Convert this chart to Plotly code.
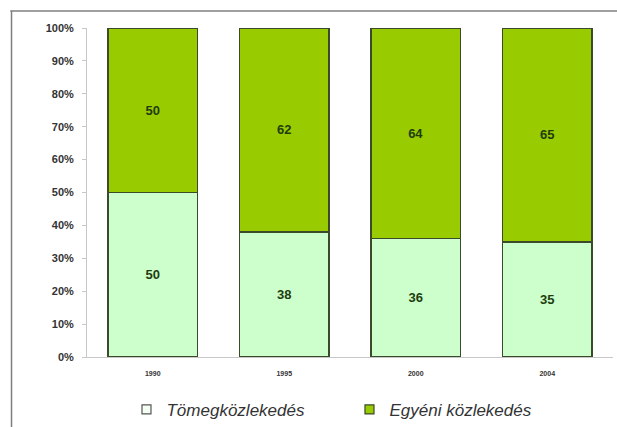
import plotly.graph_objects as go

years = ["1990", "1995", "2000", "2004"]
tomeg = [50, 38, 36, 35]
egyeni = [50, 62, 64, 65]
series_names = ["Tömegközlekedés", "Egyéni közlekedés"]
y_ticks = [0, 10, 20, 30, 40, 50, 60, 70, 80, 90, 100]

colors = ["#CCFFCC", "#99CC00"]
edge = "#3a4a2a"
lab_font = dict(family="Arial, Liberation Sans", size=13, color="#1f3d0f", weight="bold")

fig = go.Figure()
for vals, name, col in [(tomeg, series_names[0], colors[0]), (egyeni, series_names[1], colors[1])]:
    fig.add_trace(go.Bar(
        x=years, y=vals, name=name, showlegend=False,
        marker=dict(color=col, line=dict(color=edge, width=1.5)),
        text=[str(v) for v in vals], textposition="inside", insidetextanchor="middle",
        textfont=lab_font,
    ))

# legend entries with small square markers
legend_marker_fill = ["#F4FFF4", "#99CC00"]
legend_marker_line = ["#555555", "#3a4a2a"]
for name, fc, lc in zip(series_names, legend_marker_fill, legend_marker_line):
    fig.add_trace(go.Scatter(
        x=[None], y=[None], mode="markers", name=name,
        marker=dict(symbol="square", size=9, color=fc, line=dict(color=lc, width=1.2)),
    ))

fig.update_layout(
    barmode="stack",
    bargap=0.32,
    width=617, height=427,
    margin=dict(l=87, r=4, t=28, b=70),
    paper_bgcolor="white", plot_bgcolor="white",
    showlegend=True,
    legend=dict(
        orientation="h", xref="container", yref="container",
        x=0.205, xanchor="left", y=0.04, yanchor="middle",
        font=dict(family="Arial, Liberation Sans", size=17, color="#333333", style="italic"),
        itemwidth=30, traceorder="normal",
        entrywidthmode="pixels", entrywidth=178,
        bgcolor="rgba(0,0,0,0)",
    ),
    xaxis=dict(
        showline=True, linecolor="#c8c8c8", linewidth=1,
        ticks="", tickfont=dict(family="Arial, Liberation Sans", size=7, color="#333333", weight="bold"),
        showgrid=False, ticklabelstandoff=10,
    ),
    yaxis=dict(
        range=[0, 100], tickvals=y_ticks, ticktext=[f"{v}%" for v in y_ticks],
        showline=True, linecolor="#c8c8c8", linewidth=1,
        ticks="outside", ticklen=4, tickcolor="#c8c8c8",
        tickfont=dict(family="Arial, Liberation Sans", size=11, color="#333333", weight="bold"),
        showgrid=False, zeroline=False, ticklabelstandoff=6,
    ),
    shapes=[
        dict(type="line", xref="paper", yref="paper",
             x0=-0.146, x1=1.1, y0=1.052, y1=1.052,
             line=dict(color="#7f7f7f", width=1.5)),
        dict(type="line", xref="paper", yref="paper",
             x0=-0.1435, x1=-0.1435, y0=1.052, y1=-0.25,
             line=dict(color="#7f7f7f", width=1.5)),
    ],
)

fig.write_html("out.html")
